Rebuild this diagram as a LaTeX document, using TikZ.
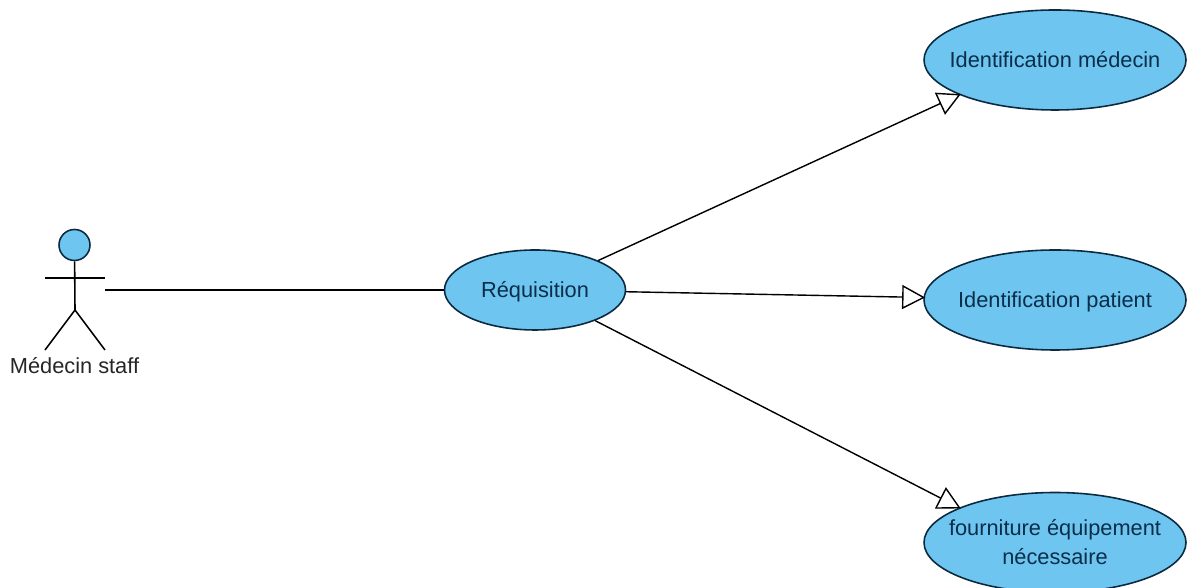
\documentclass[tikz,border=0pt]{standalone}
\usepackage{fontspec}
\usepackage{xcolor}
\setmainfont{Liberation Sans}
\usetikzlibrary{arrows.meta}
\usetikzlibrary{shapes.geometric}

\definecolor{usecaseblue}{HTML}{6EC6F0}
\definecolor{usecaseline}{HTML}{0B2A40}
\definecolor{usecasetext}{HTML}{0A2E4A}

\newcommand{\labelstrut}{\rule[-5pt]{0pt}{19pt}}

\tikzset{
	usecase/.style={ellipse,draw=usecaseline,fill=usecaseblue,line width=0.9pt,inner ysep=0pt,inner xsep=-0.6cm,
		minimum width=5.24cm,minimum height=2cm,align=center,text=usecasetext,
		font=\fontsize{12.4}{16.5}\selectfont},
	stick/.style={black,line width=0.9pt},
	assoc/.style={black,line width=0.8pt},
	include/.style={assoc,-{Triangle[open,length=0.46cm,width=0.48cm,line width=0.8pt]},shorten >=-1pt}
}

\begin{document}
\begin{tikzpicture}
	\useasboundingbox (0,0) rectangle (23.74,11.76);

	% Actor
	\node[circle,draw=usecaseline,fill=usecaseblue,line width=0.9pt,inner sep=0pt,minimum size=0.62cm] (head) at (1.49,6.86) {};
	\coordinate (hip) at (1.5,5.56);
	\coordinate (armleft) at (0.9,6.2);
	\coordinate (armright) at (2.1,6.2);
	\coordinate (footleft) at (0.9,4.76);
	\coordinate (footright) at (2.1,4.76);
	\coordinate (hand) at (2.1,5.96);
	\draw[stick] (head) -- (hip);
	\draw[stick] (armleft) -- (armright);
	\draw[stick] (footleft) -- (hip) -- (footright);
	\node[font=\fontsize{12.4}{14}\selectfont,text=black!85] (doctor) at (1.49,4.45) {Médecin staff};

	% Use cases
	\node[usecase,minimum width=3.62cm,minimum height=1.6cm] (requisition) at (10.7,5.96) {\labelstrut Réquisition};
	\node[usecase] (medecin) at (21.1,10.56) {\labelstrut Identification médecin};
	\node[usecase] (patient) at (21.1,5.76) {\labelstrut Identification patient};
	\node[usecase] (fourniture) at (21.1,0.91) {\rule{0pt}{14pt}fourniture équipement\\nécessaire\rule[-5pt]{0pt}{5pt}};

	% Connectors
	\draw[assoc] (hand) -- (requisition);
	\draw[include] (requisition.25) -- (medecin.200);
	\draw[include] (requisition) -- (patient);
	\draw[include] (requisition.-27) -- (fourniture.160);
\end{tikzpicture}
\end{document}
